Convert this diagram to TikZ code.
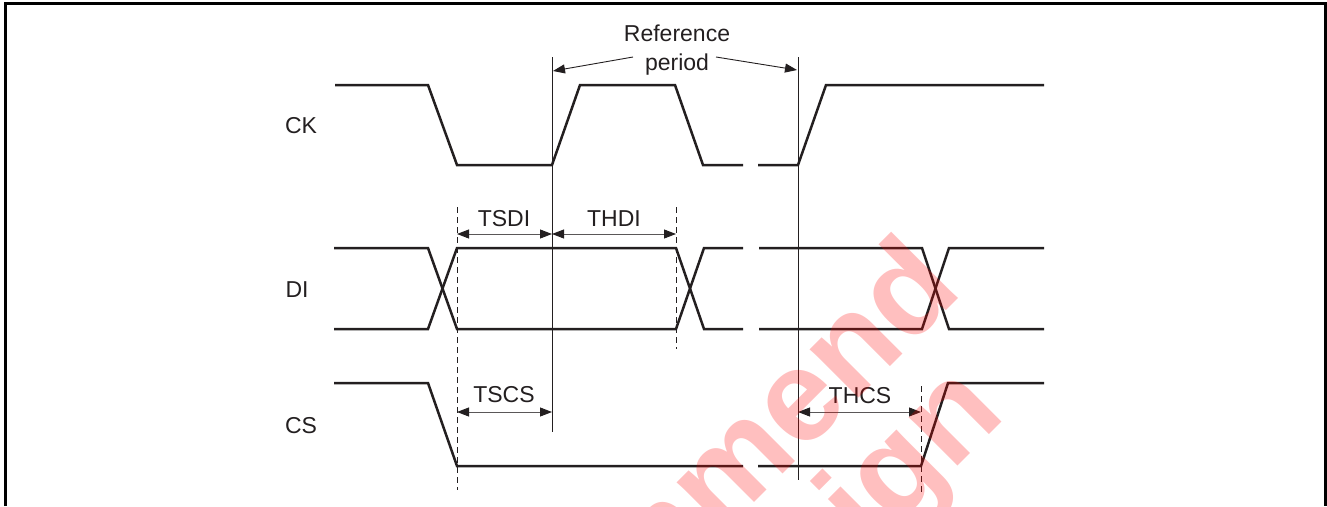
\documentclass[tikz,border=0pt]{standalone}
\usepackage{fontspec}
\setmainfont{Liberation Sans}
\usetikzlibrary{arrows.meta}
\definecolor{ink}{HTML}{231F20}
\begin{document}
\begin{tikzpicture}[x=1pt,y=-1pt,
  sig/.style={line width=2.5pt, draw=ink, line join=miter},
  refline/.style={line width=1pt, draw=ink},
  guide/.style={line width=1pt, draw=ink, dash pattern=on 6pt off 4pt},
  tip/.tip={Triangle[length=12pt,width=9pt,color=ink]},
  dim/.style={line width=0.9pt, draw=ink!75, tip-tip},
  pointer/.style={line width=0.9pt, draw=ink, -tip},
  lbl/.style={font=\fontsize{23}{29}\selectfont, text=ink, inner sep=0pt},
  wm/.style={font=\fontsize{130}{130}\selectfont\bfseries, text=red, opacity=0.25, inner sep=0pt}]
\useasboundingbox (0,0) rectangle (1327,506);
% frame
\draw[line width=3pt, draw=black, line join=miter] (5.3,506) -- (5.3,3.5) -- (1325,3.5) -- (1325,506);

% signal names
\node[lbl] (ck) at (301,126) {CK};
\node[lbl] (di) at (297,290) {DI};
\node[lbl] (cs) at (301,426) {CS};

% CK
\draw[sig] (335,85) -- (428,85) -- (457,165) -- (552,165) -- (580,85) -- (675,85) -- (703,165) -- (743,165);
\draw[sig] (758,165) -- (798,165) -- (826,85) -- (1044,85);
% DI
\draw[sig] (334,248) -- (428,248) -- (457,329) -- (676,329) -- (704,248) -- (743,248);
\draw[sig] (334,329) -- (428,329) -- (457,248) -- (676,248) -- (704,329) -- (743,329);
\draw[sig] (759,248) -- (922,248) -- (949,329) -- (1044,329);
\draw[sig] (759,329) -- (922,329) -- (949,248) -- (1044,248);
% CS
\draw[sig] (334,383) -- (428,383) -- (457,466) -- (743,466);
\draw[sig] (758,466) -- (921,466) -- (948,383) -- (1044,383);

% reference vertical lines
\coordinate (r1t) at (552,57);  \coordinate (r1b) at (552,432);
\coordinate (r2t) at (798,57);  \coordinate (r2b) at (798,480);
\draw[refline] (r1t) -- (r1b);
\draw[refline] (r2t) -- (r2b);
% dashed guides
\coordinate (g1t) at (457,207); \coordinate (g1b) at (457,490);
\coordinate (g2t) at (676,207); \coordinate (g2b) at (676,349);
\coordinate (g3t) at (921,386); \coordinate (g3b) at (921,495);
\draw[guide] (g1t) -- (g1b);
\draw[guide] (g2t) -- (g2b);
\draw[guide] (g3t) -- (g3b);

% reference period
\node[lbl, align=center] (refp) at (677,50) {Reference\\period};
\coordinate (pl0) at (633,57); \coordinate (pl1) at (553,71);
\coordinate (pr0) at (716,57); \coordinate (pr1) at (797,70);
\draw[pointer] (pl0) -- (pl1);
\draw[pointer] (pr0) -- (pr1);

% timing dimensions
\coordinate (a1) at (457,234); \coordinate (a2) at (552,234); \coordinate (a3) at (676,234);
\coordinate (b1) at (457,412); \coordinate (b2) at (552,412);
\coordinate (c1) at (798,412); \coordinate (c2) at (921,412);
\draw[dim] (a1) -- (a2);
\draw[dim] (a2) -- (a3);
\draw[dim] (b1) -- (b2);
\draw[dim] (c1) -- (c2);
\node[lbl] (tsdi) at (504,219) {TSDI};
\node[lbl] (thdi) at (614,219) {THDI};
\node[lbl] (tscs) at (504,395) {TSCS};
\node[lbl] (thcs) at (860,396) {THCS};

% watermark
\begin{scope}
\clip (0,0) rectangle (1327,506);
\node[wm, rotate=45, anchor=base east] (wm1) at (965,292) {recommend};
\node[wm, rotate=45, anchor=base east] (wm2) at (1008,416) {design};
\end{scope}
\end{tikzpicture}
\end{document}
